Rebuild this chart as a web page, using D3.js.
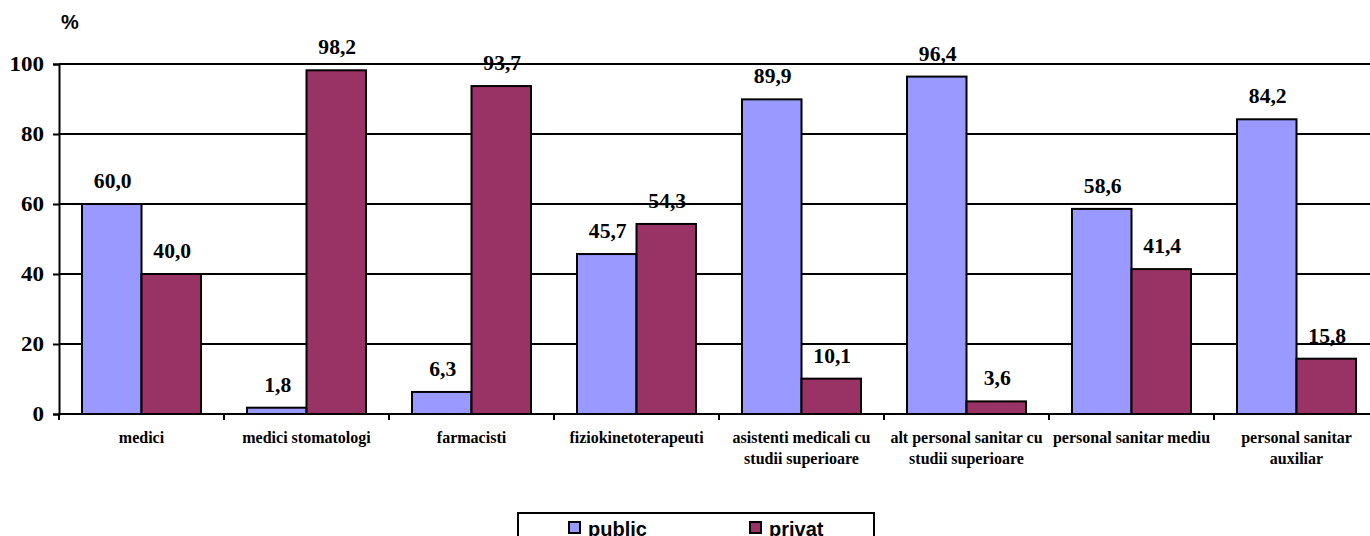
<!DOCTYPE html>
<html><head><meta charset="utf-8">
<script src="https://cdn.jsdelivr.net/npm/d3@7"></script>
<style>body{margin:0;background:#fff}svg{display:block}
.serif{font-family:"Liberation Serif","DejaVu Serif","Times New Roman",serif;font-weight:bold}
.sans{font-family:"Liberation Sans",Arial,sans-serif;font-weight:bold}
</style>
</head><body>
<script>
const categories = [
  ["medici"],
  ["medici stomatologi"],
  ["farmacisti"],
  ["fiziokinetoterapeuti"],
  ["asistenti medicali cu", "studii superioare"],
  ["alt personal sanitar cu", "studii superioare"],
  ["personal sanitar mediu"],
  ["personal sanitar", "auxiliar"]
];
const seriesNames = ["public", "privat"];
const publicValues = [60.0, 1.8, 6.3, 45.7, 89.9, 96.4, 58.6, 84.2];
const privatValues = [40.0, 98.2, 93.7, 54.3, 10.1, 3.6, 41.4, 15.8];
const yTicks = [0, 20, 40, 60, 80, 100];
const colors = {public: "#9999FF", privat: "#993366"};

const W = 1370, H = 536;
const svg = d3.select("body").append("svg").attr("width", W).attr("height", H);

const x0 = d3.scaleBand().domain(d3.range(categories.length)).range([59, 59 + 165 * categories.length]).padding(0);
const x1 = d3.scaleBand().domain(seriesNames).range([23, x0.bandwidth() - 23]).padding(0);
const y = d3.scaleLinear().domain([0, 100]).range([414, 64]);

// gridlines
svg.append("g").selectAll("line").data(yTicks.filter(t => t > 0)).join("line")
  .attr("x1", 59).attr("x2", W).attr("y1", d => y(d)).attr("y2", d => y(d))
  .attr("stroke", "#000").attr("stroke-width", 2);

// y axis
const yAxis = svg.append("g").attr("transform", "translate(59,0)")
  .call(d3.axisLeft(y).tickValues(yTicks).tickSize(6).tickPadding(9).tickFormat(d3.format("d")));
yAxis.attr("font-family", null).attr("font-size", null);
yAxis.select(".domain").attr("stroke", "#000").attr("stroke-width", 2);
yAxis.selectAll(".tick line").attr("stroke", "#000").attr("stroke-width", 2);
yAxis.selectAll(".tick text").attr("class", "serif")
  .attr("x", 0).attr("transform", "translate(-15,0) scale(1.15,1)")
  .style("font-size", "20px").attr("fill", "#000");

// bars
const data = categories.map((c, i) => ({i, vals: [
  {s: "public", v: publicValues[i]}, {s: "privat", v: privatValues[i]}]}));
const groups = svg.append("g").selectAll("g").data(data).join("g")
  .attr("transform", d => `translate(${x0(d.i)},0)`);
groups.selectAll("rect").data(d => d.vals).join("rect")
  .attr("x", d => x1(d.s)).attr("width", x1.bandwidth())
  .attr("y", d => y(d.v)).attr("height", d => y(0) - y(d.v))
  .attr("fill", d => colors[d.s]).attr("stroke", "#000").attr("stroke-width", 2);
groups.selectAll("text").data(d => d.vals).join("text")
  .attr("transform", d => `translate(${x1(d.s) + x1.bandwidth() / 2 + 1},${y(d.v) - 16}) scale(1.08,1)`)
  .attr("text-anchor", "middle").attr("class", "serif")
  .style("font-size", "20px").attr("fill", "#000")
  .text(d => d3.format(".1f")(d.v).replace(".", ","));

// x axis
const xAxisG = svg.append("g");
xAxisG.append("line").attr("x1", 59).attr("x2", W).attr("y1", y(0)).attr("y2", y(0))
  .attr("stroke", "#000").attr("stroke-width", 2);
xAxisG.selectAll("line.tk").data(d3.range(categories.length + 1)).join("line").attr("class", "tk")
  .attr("x1", d => 59 + d * x0.step()).attr("x2", d => 59 + d * x0.step())
  .attr("y1", y(0)).attr("y2", y(0) + 6).attr("stroke", "#000").attr("stroke-width", 2);
const labels = xAxisG.selectAll("text").data(categories).join("text")
  .attr("x", (d, i) => x0(i) + x0.bandwidth() / 2).attr("y", 443)
  .attr("text-anchor", "middle").attr("class", "serif")
  .style("font-size", "16px").attr("fill", "#000");
labels.selectAll("tspan").data(d => d).join("tspan")
  .attr("x", function() { return this.parentNode.getAttribute("x"); })
  .attr("dy", (d, j) => j === 0 ? 0 : 21).text(d => d);

// % label
svg.append("text").attr("x", 61).attr("y", 29).text("%").attr("class", "sans")
  .style("font-size", "20px").attr("fill", "#000");

// legend
const lg = svg.append("g");
lg.append("rect").attr("x", 518).attr("y", 513).attr("width", 356).attr("height", 60)
  .attr("fill", "#fff").attr("stroke", "#000").attr("stroke-width", 2);
const legendX = [569, 750];
seriesNames.forEach((s, i) => {
  lg.append("rect").attr("x", legendX[i]).attr("y", 522).attr("width", 11).attr("height", 11)
    .attr("fill", colors[s]).attr("stroke", "#000").attr("stroke-width", 2);
  lg.append("text").attr("x", legendX[i] + 19).attr("y", 536).text(s).attr("class", "sans")
    .style("font-size", "20px").attr("fill", "#000");
});
</script>
</body></html>
